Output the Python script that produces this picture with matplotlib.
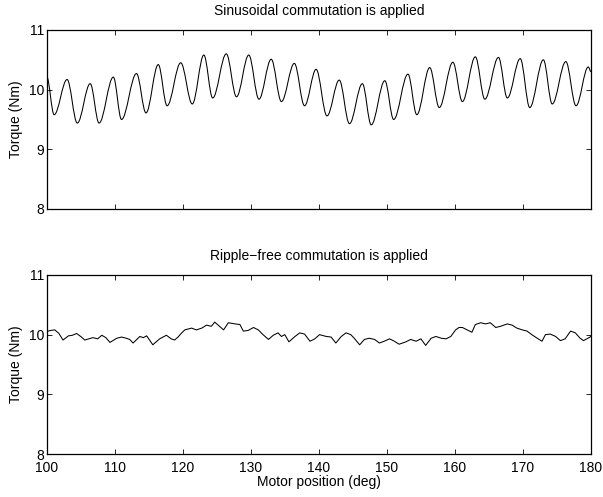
import numpy as np
import matplotlib.pyplot as plt
from matplotlib.path import Path
from matplotlib.patches import PathPatch

plt.rcParams['font.family'] = ['Liberation Sans', 'DejaVu Sans']

# sinusoidal commutation: peaks and troughs
sin_pos = [100.0, 101.1, 103.0, 104.5, 106.4, 107.7, 109.8, 111.0, 113.2, 114.6,
           116.4, 117.7, 119.7, 121.4, 123.1, 124.4, 126.4, 127.9, 129.7, 131.2,
           133.0, 134.5, 136.4, 137.9, 139.6, 141.2, 143.0, 144.5, 146.4, 147.7,
           149.7, 151.0, 153.1, 154.4, 156.3, 157.7, 159.7, 161.1, 163.0, 164.4,
           166.4, 167.7, 169.6, 171.0, 173.0, 174.3, 176.3, 177.8, 179.6, 180.0]
sin_torque = [10.22, 9.58, 10.17, 9.44, 10.10, 9.44, 10.21, 9.50, 10.27, 9.61,
              10.42, 9.73, 10.45, 9.76, 10.58, 9.86, 10.60, 9.88, 10.58, 9.84,
              10.51, 9.80, 10.44, 9.73, 10.34, 9.56, 10.16, 9.43, 10.10, 9.41,
              10.15, 9.50, 10.26, 9.58, 10.37, 9.70, 10.46, 9.80, 10.55, 9.84,
              10.54, 9.86, 10.52, 9.70, 10.50, 9.76, 10.47, 9.73, 10.38, 10.30]

# ripple-free commutation
rf_pos = [100.0, 100.5, 101.2, 101.8, 102.4, 103.2, 103.8, 104.4, 105.0, 105.6,
          106.2, 106.8, 107.5, 108.1, 108.7, 109.3, 110.3, 111.0, 111.7, 112.2,
          112.7, 113.7, 114.2, 114.7, 115.6, 116.6, 117.6, 118.3, 118.8, 119.3,
          119.85, 120.3, 121.3, 122.0, 122.8, 123.5, 124.2, 124.7, 125.2, 126.0,
          126.7, 127.7, 128.4, 128.9, 129.6, 130.4, 131.1, 131.8, 132.6, 133.3,
          134.0, 134.5, 135.0, 135.6, 136.5, 137.2, 137.9, 138.7, 139.4, 140.1,
          141.1, 141.8, 142.5, 143.3, 144.0, 144.7, 145.2, 146.0, 146.7, 147.4,
          148.2, 148.9, 149.6, 150.4, 151.1, 151.8, 152.8, 153.5, 154.3, 155.0,
          155.7, 156.5, 157.2, 158.0, 158.7, 159.4, 160.1, 160.6, 161.1, 161.8,
          162.5, 163.0, 163.8, 164.5, 165.2, 166.0, 166.7, 167.7, 168.4, 169.1,
          169.9, 170.6, 171.3, 172.1, 172.8, 173.3, 174.0, 174.8, 175.5, 176.2,
          177.0, 177.7, 178.4, 178.9, 179.7, 180.0]
rf_torque = [10.05, 10.07, 10.08, 10.02, 9.91, 9.98, 9.99, 10.02, 9.97, 9.91,
             9.93, 9.95, 9.93, 9.99, 9.95, 9.87, 9.94, 9.96, 9.94, 9.92,
             9.86, 9.97, 9.95, 9.98, 9.83, 9.93, 9.99, 9.93, 9.91, 9.96,
             10.03, 10.08, 10.11, 10.08, 10.11, 10.16, 10.14, 10.21, 10.16, 10.08,
             10.20, 10.18, 10.17, 10.06, 10.07, 10.12, 10.08, 10.00, 9.92, 9.99,
             10.03, 9.97, 10.00, 9.88, 9.97, 10.03, 10.01, 9.89, 9.93, 10.00,
             9.97, 9.96, 9.86, 9.97, 10.03, 10.00, 9.94, 9.83, 9.92, 9.94,
             9.92, 9.86, 9.89, 9.93, 9.89, 9.84, 9.88, 9.92, 9.89, 9.93,
             9.82, 9.94, 9.97, 9.94, 9.93, 9.97, 10.08, 10.12, 10.12, 10.08,
             10.04, 10.17, 10.20, 10.18, 10.20, 10.12, 10.14, 10.18, 10.16, 10.11,
             10.08, 10.06, 10.00, 9.94, 9.89, 10.00, 10.01, 9.97, 9.90, 9.93,
             10.06, 10.03, 9.94, 9.90, 9.95, 9.97]

x_ticks = [100, 110, 120, 130, 140, 150, 160, 170, 180]
y_ticks = [8, 9, 10, 11]


def smooth_path(xs, ys, k=0.36):
    # cubic segments with flat tangents at each extremum
    verts = [(xs[0], ys[0])]
    codes = [Path.MOVETO]
    for i in range(len(xs) - 1):
        dx = xs[i + 1] - xs[i]
        verts += [(xs[i] + k * dx, ys[i]), (xs[i + 1] - k * dx, ys[i + 1]), (xs[i + 1], ys[i + 1])]
        codes += [Path.CURVE4] * 3
    return Path(verts, codes)


fig = plt.figure(figsize=(6.03, 4.97), dpi=100)
ax1 = fig.add_axes([0.0774, 0.5795, 0.9027, 0.3602])
ax2 = fig.add_axes([0.0774, 0.0865, 0.9027, 0.3602])

ax1.add_patch(PathPatch(smooth_path(sin_pos, sin_torque), facecolor='none', edgecolor='k', lw=0.75))
ax2.plot(rf_pos, rf_torque, color='k', lw=0.75)

for ax, title in [(ax1, 'Sinusoidal commutation is applied'), (ax2, 'Ripple\u2212free commutation is applied')]:
    ax.set_xlim(100, 180)
    ax.set_ylim(8, 11)
    ax.set_xticks(x_ticks)
    ax.set_yticks(y_ticks)
    ax.set_title(title, fontsize=10, pad=11)
    ax.set_ylabel('Torque (Nm)', fontsize=10, labelpad=4)
    ax.tick_params(direction='in', top=True, right=True, length=3.5, width=0.6, labelsize=10)
    ax.tick_params(axis='y', pad=2)
    ax.tick_params(axis='x', pad=5)
    for s in ax.spines.values():
        s.set_linewidth(0.9)

ax1.set_xticklabels([])
ax2.set_xlabel('Motor position (deg)', fontsize=10, labelpad=0)

fig.savefig('out.png', dpi=100)
